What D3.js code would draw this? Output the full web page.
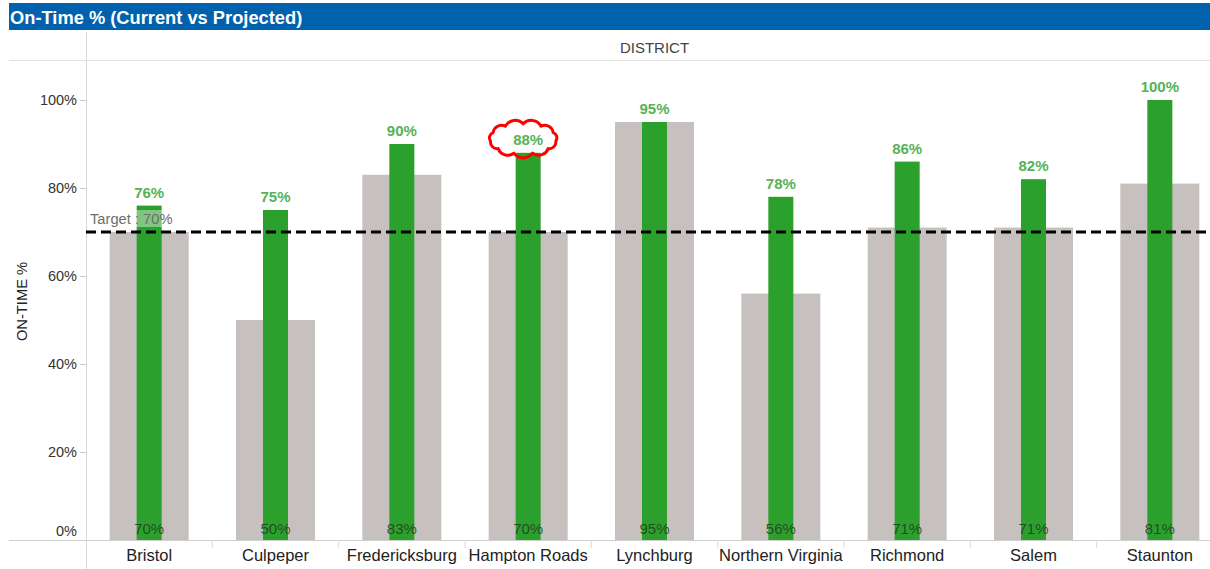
<!DOCTYPE html>
<html><head><meta charset="utf-8">
<script src="https://cdn.jsdelivr.net/npm/d3@7"></script>
<style>
body{margin:0;background:#fff;}
svg{display:block;font-family:"Liberation Sans",Arial,sans-serif;}
</style></head><body>
<svg id="c" width="1210" height="569"></svg>
<script>
const districts = ["Bristol","Culpeper","Fredericksburg","Hampton Roads","Lynchburg","Northern Virginia","Richmond","Salem","Staunton"];
const currentPct = [70,50,83,70,95,56,71,71,81];
const projectedPct = [76,75,90,88,95,78,86,82,100];
const yTicks = [0,20,40,60,80,100];
const target = 70;
const title = "On-Time % (Current vs Projected)";
const highlighted = "Hampton Roads";

(function(){
const svg = d3.select("#c");
const W = 1210, H = 569;
const mLeft = 86, mRight = 1223, mTop = 60, mBottom = 540;

// title bar
svg.append("rect").attr("x",9).attr("y",3).attr("width",W-9).attr("height",27).attr("fill","#0061ac");
svg.append("text").attr("x",10).attr("y",23.5).attr("fill","#fff").attr("font-weight","bold").attr("font-size",18.3).text(title);

// frame lines
svg.append("line").attr("x1",mLeft+0.5).attr("x2",mLeft+0.5).attr("y1",32).attr("y2",H).attr("stroke","#d8d8d8");
svg.append("line").attr("x1",9).attr("x2",W).attr("y1",mTop+0.5).attr("y2",mTop+0.5).attr("stroke","#e3e3e3");
svg.append("text").attr("x",(mLeft+mRight)/2).attr("y",53).attr("text-anchor","middle").attr("font-size",15).attr("fill","#444").text("DISTRICT");

const x = d3.scaleBand().domain(districts).range([mLeft,mRight]).padding(0);
const y = d3.scaleLinear().domain([0,100]).range([mBottom,100]);

// y axis
const yAxis = svg.append("g").attr("transform",`translate(${mLeft},0)`)
  .call(d3.axisLeft(y).tickValues(yTicks).tickFormat(d=>d+"%").tickSize(6).tickPadding(3));
yAxis.select(".domain").remove();
yAxis.selectAll("line").attr("stroke","#ccc");
yAxis.selectAll("text").attr("font-size",14.5).attr("fill","#333").attr("font-family","Liberation Sans, Arial, sans-serif")
  .attr("dy",d=>d===0?"-0.3em":"0.32em");

svg.append("text").attr("transform",`translate(27,301.5) rotate(-90)`).attr("text-anchor","middle")
  .attr("font-size",14.7).attr("fill","#222").text("ON-TIME %");

// bottom axis line
svg.append("line").attr("x1",9).attr("x2",W).attr("y1",mBottom+0.5).attr("y2",mBottom+0.5).attr("stroke","#cfcfcf");
districts.slice(1).forEach(d=>{
  svg.append("line").attr("x1",x(d)).attr("x2",x(d)).attr("y1",mBottom).attr("y2",mBottom+8).attr("stroke","#ddd");
});

const grayW = 79, greenW = 25;
const data = districts.map((d,i)=>({d,cur:currentPct[i],proj:projectedPct[i]}));

const g = svg.append("g");
g.selectAll(".gray").data(data).join("rect")
  .attr("x",d=>x(d.d)+x.bandwidth()/2-grayW/2).attr("width",grayW)
  .attr("y",d=>y(d.cur)).attr("height",d=>y(0)-y(d.cur)).attr("fill","#c6c1be");
g.selectAll(".green").data(data).join("rect")
  .attr("x",d=>x(d.d)+x.bandwidth()/2-greenW/2).attr("width",greenW)
  .attr("y",d=>y(d.proj)).attr("height",d=>y(0)-y(d.proj)).attr("fill","#2ca02c");

// target line
svg.append("line").attr("x1",mLeft).attr("x2",W).attr("y1",y(target)).attr("y2",y(target))
  .attr("stroke","#000").attr("stroke-width",3).attr("stroke-dasharray","10,5");
svg.append("rect").attr("x",mLeft+2).attr("y",y(target)-22).attr("width",88).attr("height",17).attr("fill","#fff").attr("fill-opacity",0.4);
svg.append("text").attr("x",mLeft+4).attr("y",y(target)-8).attr("font-size",14.7).attr("fill","#6e6e6e").text("Target : "+target+"%");

// labels
g.selectAll(".plab").data(data).join("text")
  .attr("x",d=>x(d.d)+x.bandwidth()/2).attr("y",d=>y(d.proj)-8).attr("text-anchor","middle")
  .attr("font-size",15).attr("font-weight","bold").attr("fill","#56b256").text(d=>d.proj+"%");
g.selectAll(".clab").data(data).join("text")
  .attr("x",d=>x(d.d)+x.bandwidth()/2).attr("y",mBottom-6).attr("text-anchor","middle")
  .attr("font-size",15).attr("fill","#243a24").attr("fill-opacity",0.85).text(d=>d.cur+"%");
g.selectAll(".xlab").data(data).join("text")
  .attr("x",d=>x(d.d)+x.bandwidth()/2).attr("y",561).attr("text-anchor","middle")
  .attr("font-size",16.5).attr("fill","#222").text(d=>d.d);

// cloud annotation
const hd = data.find(d=>d.d===highlighted);
const cx = x(hd.d)+x.bandwidth()/2-5, cy = y(hd.proj)-14;
const rx = 33, ry = 15, n = 11;
let pts = [];
for(let i=0;i<n;i++){const a = -Math.PI/2 + i*2*Math.PI/n; pts.push([cx+rx*Math.cos(a), cy+ry*Math.sin(a)]);}
let p = `M${pts[0][0]},${pts[0][1]}`;
for(let i=0;i<n;i++){
  const a=pts[i], b=pts[(i+1)%n];
  const r = Math.hypot(b[0]-a[0],b[1]-a[1])*0.62;
  p += ` A${r},${r} 0 0 1 ${b[0]},${b[1]}`;
}
svg.append("path").attr("d",p+"Z").attr("fill","none").attr("stroke","#f00").attr("stroke-width",3).attr("stroke-linejoin","round");
})();
</script></body></html>
